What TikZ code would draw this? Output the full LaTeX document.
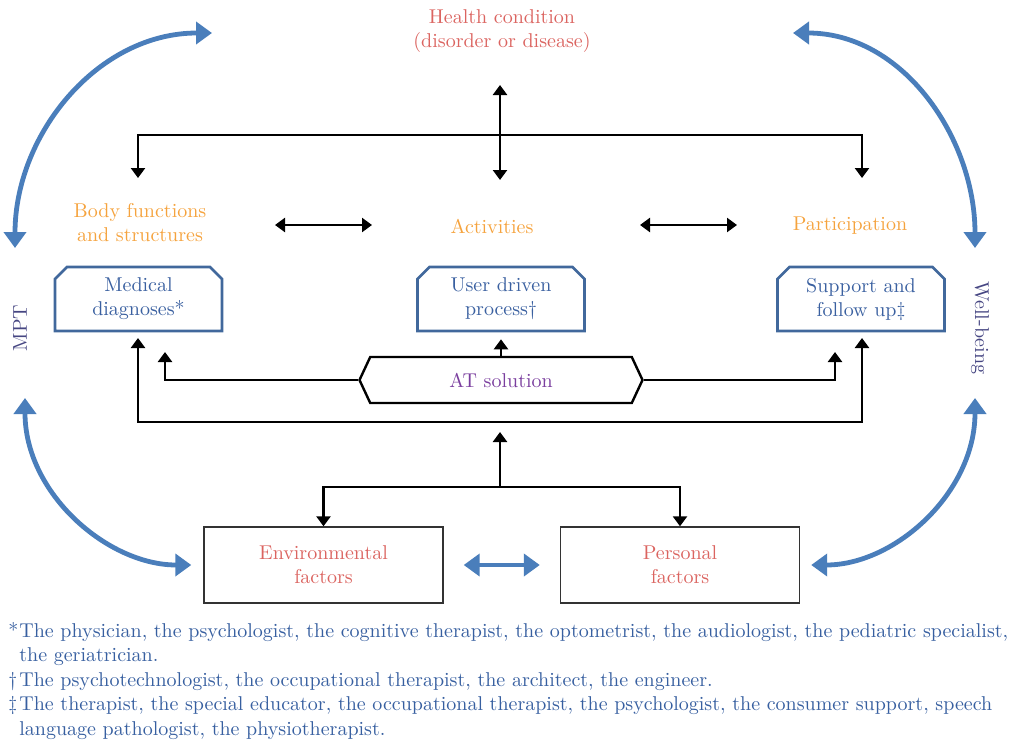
\documentclass[tikz,border=0pt]{standalone}
\usetikzlibrary{arrows.meta,shapes.misc,shapes.symbols}
\definecolor{hcred}{RGB}{219,100,96}
\definecolor{icforange}{RGB}{245,163,62}
\definecolor{boxblue}{RGB}{65,104,156}
\definecolor{boxtext}{RGB}{58,96,160}
\definecolor{curveblue}{RGB}{74,126,187}
\definecolor{atpurple}{RGB}{122,62,158}
\definecolor{sidenavy}{RGB}{70,70,130}
\definecolor{notetext}{RGB}{55,95,160}
\tikzset{
  blk/.style={line width=1.2pt, -{Triangle[width=7pt,length=5pt]}},
  blkboth/.style={line width=1.2pt, {Triangle[width=7pt,length=5pt]}-{Triangle[width=7pt,length=5pt]}},
  bluecurve/.style={curveblue, line width=2.4pt, {Triangle[width=11pt,length=8pt]}-{Triangle[width=11pt,length=8pt]}},
  hclabel/.style={text=hcred, align=center},
  icflabel/.style={text=icforange, align=center},
  chambox/.style={chamfered rectangle, chamfered rectangle corners={north west,north east},
    chamfered rectangle sep=3pt, draw=boxblue, line width=1.3pt, text=boxtext, align=center,
    minimum width=83.5pt, minimum height=32pt, inner sep=2pt},
  hexbox/.style={signal, signal to=west and east, signal pointer angle=130, draw, line width=1.2pt,
    text=atpurple, minimum width=141.5pt, minimum height=23pt},
  factbox/.style={draw=black!80, line width=0.7pt, text=hcred, align=center,
    minimum width=119.5pt, minimum height=38pt},
  sidelabel/.style={text=sidenavy},
  notes/.style={anchor=north west, align=left, inner sep=0pt, text=notetext,
    font={\fontsize{10pt}{12.25pt}\selectfont}}
}
\begin{document}
\begin{tikzpicture}[x=0.5pt,y=-0.5pt]
\useasboundingbox (0,0) rectangle (1011,744);
\node [hclabel] (hc) at (502,31) {Health condition\\(disorder or disease)};
\node [icflabel] (bfs) at (140,223) {Body functions\\and structures};
\node [icflabel] (act) at (492,226) {Activities};
\node [icflabel] (par) at (850,226) {Participation};
\node [chambox] (md) at (138.5,299) {Medical\\diagnoses*};
\node [chambox] (udp) at (501,299) {User driven\\process\dag};
\node [chambox] (sfu) at (861,299) {Support and\\follow up\ddag};
\node [hexbox] (ats) at (501,380) {AT solution};
\node [factbox] (env) at (323.5,565) {Environmental\\factors};
\node [factbox] (per) at (680,565) {Personal\\factors};
\node [sidelabel, rotate=90] (mpt) at (20,328) {MPT};
\node [sidelabel, rotate=-90] (wb) at (980,328) {Well-being};
\coordinate (hcup) at (500,85);
\coordinate (hcdown) at (500,180);
\coordinate (topbus) at (500,135);
\coordinate (bfsin) at (138,178);
\coordinate (parin) at (862,178);
\coordinate (ba) at (275,225);
\coordinate (ab) at (372,225);
\coordinate (ap) at (640,225);
\coordinate (pa) at (737,225);
\coordinate (mdin) at (165,352);
\coordinate (sfuin) at (835,352);
\coordinate (midbus) at (500,422);
\coordinate (mdin2) at (138,338);
\coordinate (sfuin2) at (862,338);
\coordinate (midup) at (500,432);
\coordinate (lowbus) at (500,487);
\coordinate (tlA) at (15,248);
\coordinate (tlB) at (212,33);
\coordinate (trA) at (793,33);
\coordinate (trB) at (975,248);
\coordinate (blA) at (25,398);
\coordinate (brA) at (975,398);
\draw [blkboth] (hcup) -- (hcdown);
\draw [blk] (topbus) -| (bfsin);
\draw [blk] (topbus) -| (parin);
\draw [blkboth] (ba) -- (ab);
\draw [blkboth] (ap) -- (pa);
\draw [blk, shorten >=3.5pt] (ats.north) -- (udp.south);
\draw [blk] (ats.west) -| (mdin);
\draw [blk] (ats.east) -| (sfuin);
\draw [blk] (midbus) -| (mdin2);
\draw [blk] (midbus) -| (sfuin2);
\draw [blk] (lowbus) -- (midup);
\draw [blk] (lowbus) -| (env.north);
\draw [blk] (lowbus) -| (per.north);
\draw [bluecurve, shorten <=10pt, shorten >=10pt] (env.east) -- (per.west);
\draw [bluecurve] (tlA) to[out=90,in=180] (tlB);
\draw [bluecurve] (trA) to[out=0,in=90] (trB);
\draw [bluecurve, shorten >=6pt] (blA) to[out=-90,in=180] (env.west);
\draw [bluecurve, shorten >=5.5pt] (brA) to[out=-90,in=0] (per.east);
\node [notes] (fn) at (8,622) {\makebox[5.5pt][l]{*}The physician, the psychologist, the cognitive therapist, the optometrist, the audiologist, the pediatric specialist,\\
\hspace*{5.5pt}the geriatrician.\\
\makebox[5.5pt][l]{\dag}The psychotechnologist, the occupational therapist, the architect, the engineer.\\
\makebox[5.5pt][l]{\ddag}The therapist, the special educator, the occupational therapist, the psychologist, the consumer support, speech\\
\hspace*{5.5pt}language pathologist, the physiotherapist.};
\end{tikzpicture}
\end{document}
